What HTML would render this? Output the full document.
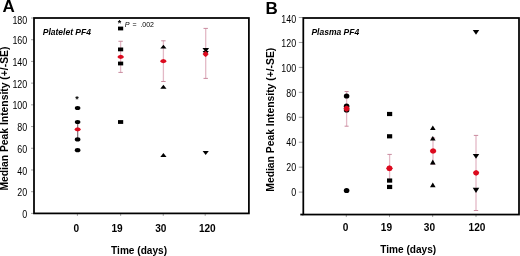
<!DOCTYPE html>
<html><head><meta charset="utf-8"><style>
html,body{margin:0;padding:0;background:#fff;}
body{width:520px;height:256px;overflow:hidden;}
svg{display:block;font-family:"Liberation Sans", sans-serif;will-change:transform;}
</style></head><body>
<svg width="520" height="256" viewBox="0 0 520 256" font-family='"Liberation Sans", sans-serif' fill="#000">
<text x="2.6" y="12.2" font-size="17" font-weight="bold">A</text>
<line x1="31" y1="213.4" x2="34" y2="213.4" stroke="#8a8a8a" stroke-width="0.8"/>
<text transform="translate(27.2,217.97) scale(0.87,1)" font-size="10.2" text-anchor="end">0</text>
<line x1="31" y1="191.69" x2="34" y2="191.69" stroke="#8a8a8a" stroke-width="0.8"/>
<text transform="translate(27.2,196.26) scale(0.87,1)" font-size="10.2" text-anchor="end">20</text>
<line x1="31" y1="169.98" x2="34" y2="169.98" stroke="#8a8a8a" stroke-width="0.8"/>
<text transform="translate(27.2,174.55) scale(0.87,1)" font-size="10.2" text-anchor="end">40</text>
<line x1="31" y1="148.27" x2="34" y2="148.27" stroke="#8a8a8a" stroke-width="0.8"/>
<text transform="translate(27.2,152.84) scale(0.87,1)" font-size="10.2" text-anchor="end">60</text>
<line x1="31" y1="126.56" x2="34" y2="126.56" stroke="#8a8a8a" stroke-width="0.8"/>
<text transform="translate(27.2,131.13) scale(0.87,1)" font-size="10.2" text-anchor="end">80</text>
<line x1="31" y1="104.84" x2="34" y2="104.84" stroke="#8a8a8a" stroke-width="0.8"/>
<text transform="translate(27.2,109.41) scale(0.87,1)" font-size="10.2" text-anchor="end">100</text>
<line x1="31" y1="83.13" x2="34" y2="83.13" stroke="#8a8a8a" stroke-width="0.8"/>
<text transform="translate(27.2,87.70) scale(0.87,1)" font-size="10.2" text-anchor="end">120</text>
<line x1="31" y1="61.42" x2="34" y2="61.42" stroke="#8a8a8a" stroke-width="0.8"/>
<text transform="translate(27.2,65.99) scale(0.87,1)" font-size="10.2" text-anchor="end">140</text>
<line x1="31" y1="39.71" x2="34" y2="39.71" stroke="#8a8a8a" stroke-width="0.8"/>
<text transform="translate(27.2,44.28) scale(0.87,1)" font-size="10.2" text-anchor="end">160</text>
<line x1="31" y1="18.0" x2="34" y2="18.0" stroke="#8a8a8a" stroke-width="0.8"/>
<text transform="translate(27.2,24.17) scale(0.87,1)" font-size="10.2" text-anchor="end">180</text>
<line x1="77.4" y1="213.4" x2="77.4" y2="215.9" stroke="#8a8a8a" stroke-width="0.8"/>
<line x1="120.65" y1="213.4" x2="120.65" y2="215.9" stroke="#8a8a8a" stroke-width="0.8"/>
<line x1="163.25" y1="213.4" x2="163.25" y2="215.9" stroke="#8a8a8a" stroke-width="0.8"/>
<line x1="205.2" y1="213.4" x2="205.2" y2="215.9" stroke="#8a8a8a" stroke-width="0.8"/>
<text x="76.25" y="231.6" font-size="10.1" font-weight="bold" text-anchor="middle">0</text>
<text x="117.1" y="231.6" font-size="10.1" font-weight="bold" text-anchor="middle">19</text>
<text x="160.75" y="231.6" font-size="10.1" font-weight="bold" text-anchor="middle">30</text>
<text x="207.3" y="231.6" font-size="10.1" font-weight="bold" text-anchor="middle">120</text>
<text x="111.1" y="253.6" font-size="10.1" font-weight="bold">Time (days)</text>
<text x="42.75" y="35.2" font-size="8.5" font-weight="bold" font-style="italic">Platelet PF4</text>
<text transform="translate(7.7,190.6) rotate(-90)" font-size="10.35" font-weight="bold">Median Peak Intensity (+/-SE)</text>
<text x="77.1" y="102.3" font-size="9" font-weight="bold" text-anchor="middle">*</text>
<text x="119.5" y="26.3" font-size="9" font-weight="bold" text-anchor="middle">*</text>
<text x="124.8" y="26.7" font-size="7.2" font-style="italic">P</text>
<text x="132.4" y="26.7" font-size="7">=</text>
<text x="140.4" y="26.7" font-size="7">.002</text>
<line x1="77.65" y1="122" x2="77.65" y2="139.4" stroke="#8a7a80" stroke-width="1.3"/>
<line x1="75.45" y1="122" x2="79.85" y2="122" stroke="#c98a9e" stroke-width="1"/>
<line x1="75.45" y1="139.4" x2="79.85" y2="139.4" stroke="#c98a9e" stroke-width="1"/>
<ellipse cx="77.6" cy="108" rx="2.8" ry="2.1" fill="#000"/>
<ellipse cx="77.6" cy="122" rx="2.8" ry="2.1" fill="#000"/>
<ellipse cx="77.6" cy="139.4" rx="2.8" ry="2.1" fill="#000"/>
<ellipse cx="77.6" cy="150.2" rx="2.8" ry="2.1" fill="#000"/>
<polygon points="80.95,129.45 79.83,128.06 77.65,127.35 75.47,128.06 74.35,129.45 75.47,130.84 77.65,131.55 79.83,130.84" fill="#dc0a1e"/>
<line x1="120.6" y1="41.25" x2="120.6" y2="72.4" stroke="#e3b9c6" stroke-width="1.3"/>
<line x1="118.40" y1="41.25" x2="122.80" y2="41.25" stroke="#c98a9e" stroke-width="1"/>
<line x1="118.40" y1="72.4" x2="122.80" y2="72.4" stroke="#c98a9e" stroke-width="1"/>
<rect x="118.00" y="26.60" width="5.2" height="3.8" fill="#000"/>
<rect x="118.00" y="47.50" width="5.2" height="3.8" fill="#000"/>
<rect x="118.00" y="61.60" width="5.2" height="3.8" fill="#000"/>
<rect x="118.00" y="120.10" width="5.2" height="3.8" fill="#000"/>
<polygon points="124.00,56.90 122.88,55.51 120.70,54.80 118.52,55.51 117.40,56.90 118.52,58.29 120.70,59.00 122.88,58.29" fill="#dc0a1e"/>
<line x1="163.4" y1="40.8" x2="163.4" y2="81.5" stroke="#e3b9c6" stroke-width="1.3"/>
<line x1="161.20" y1="40.8" x2="165.60" y2="40.8" stroke="#c98a9e" stroke-width="1"/>
<line x1="161.20" y1="81.5" x2="165.60" y2="81.5" stroke="#c98a9e" stroke-width="1"/>
<polygon points="163.4,44.65 160.30,48.5 166.50,48.5" fill="#000"/>
<polygon points="163.4,84.65 160.30,88.75 166.50,88.75" fill="#000"/>
<polygon points="163.4,153.1 160.30,157 166.50,157" fill="#000"/>
<polygon points="166.65,61.20 165.53,59.81 163.35,59.10 161.17,59.81 160.05,61.20 161.17,62.59 163.35,63.30 165.53,62.59" fill="#dc0a1e"/>
<line x1="205.7" y1="28.4" x2="205.7" y2="78.4" stroke="#e3b9c6" stroke-width="1.3"/>
<line x1="203.50" y1="28.4" x2="207.90" y2="28.4" stroke="#c98a9e" stroke-width="1"/>
<line x1="203.50" y1="78.4" x2="207.90" y2="78.4" stroke="#c98a9e" stroke-width="1"/>
<polygon points="205.8,52.6 202.50,47.9 209.10,47.9" fill="#000"/>
<polygon points="205.7,55.6 202.60,50.9 208.80,50.9" fill="#000"/>
<polygon points="205.7,155.0 202.60,151.1 208.80,151.1" fill="#000"/>
<polygon points="208.60,54.10 207.25,52.45 205.60,51.10 203.95,52.45 202.60,54.10 203.95,55.75 205.60,57.10 207.25,55.75" fill="#dc0a1e"/>
<rect x="34" y="18" width="214.9" height="195.4" fill="none" stroke="#000" stroke-width="1.75"/>
<text x="265.5" y="14.2" font-size="17" font-weight="bold">B</text>
<line x1="298.8" y1="192.1" x2="303.3" y2="192.1" stroke="#8a8a8a" stroke-width="0.8"/>
<text transform="translate(296.1,196.27) scale(0.87,1)" font-size="10.2" text-anchor="end">0</text>
<line x1="298.8" y1="167.16" x2="303.3" y2="167.16" stroke="#8a8a8a" stroke-width="0.8"/>
<text transform="translate(296.1,171.33) scale(0.87,1)" font-size="10.2" text-anchor="end">20</text>
<line x1="298.8" y1="142.22" x2="303.3" y2="142.22" stroke="#8a8a8a" stroke-width="0.8"/>
<text transform="translate(296.1,146.39) scale(0.87,1)" font-size="10.2" text-anchor="end">40</text>
<line x1="298.8" y1="117.28" x2="303.3" y2="117.28" stroke="#8a8a8a" stroke-width="0.8"/>
<text transform="translate(296.1,121.45) scale(0.87,1)" font-size="10.2" text-anchor="end">60</text>
<line x1="298.8" y1="92.34" x2="303.3" y2="92.34" stroke="#8a8a8a" stroke-width="0.8"/>
<text transform="translate(296.1,96.51) scale(0.87,1)" font-size="10.2" text-anchor="end">80</text>
<line x1="298.8" y1="67.4" x2="303.3" y2="67.4" stroke="#8a8a8a" stroke-width="0.8"/>
<text transform="translate(296.1,71.57) scale(0.87,1)" font-size="10.2" text-anchor="end">100</text>
<line x1="298.8" y1="42.46" x2="303.3" y2="42.46" stroke="#8a8a8a" stroke-width="0.8"/>
<text transform="translate(296.1,46.63) scale(0.87,1)" font-size="10.2" text-anchor="end">120</text>
<line x1="298.8" y1="17.52" x2="303.3" y2="17.52" stroke="#8a8a8a" stroke-width="0.8"/>
<text transform="translate(296.1,22.79) scale(0.87,1)" font-size="10.2" text-anchor="end">140</text>
<line x1="300.3" y1="214.55" x2="303.3" y2="214.55" stroke="#000" stroke-width="1.75"/>
<line x1="346.3" y1="214.55" x2="346.3" y2="217.05" stroke="#8a8a8a" stroke-width="0.8"/>
<line x1="389.5" y1="214.55" x2="389.5" y2="217.05" stroke="#8a8a8a" stroke-width="0.8"/>
<line x1="432.65" y1="214.55" x2="432.65" y2="217.05" stroke="#8a8a8a" stroke-width="0.8"/>
<line x1="476" y1="214.55" x2="476" y2="217.05" stroke="#8a8a8a" stroke-width="0.8"/>
<text x="345.45" y="230.9" font-size="10.1" font-weight="bold" text-anchor="middle">0</text>
<text x="386.4" y="230.9" font-size="10.1" font-weight="bold" text-anchor="middle">19</text>
<text x="429.45" y="230.9" font-size="10.1" font-weight="bold" text-anchor="middle">30</text>
<text x="477" y="230.9" font-size="10.1" font-weight="bold" text-anchor="middle">120</text>
<text x="380.3" y="253.2" font-size="10.1" font-weight="bold">Time (days)</text>
<text x="311.4" y="34.8" font-size="8.5" font-weight="bold" font-style="italic">Plasma PF4</text>
<text transform="translate(274.4,191.7) rotate(-90)" font-size="10.35" font-weight="bold">Median Peak Intensity (+/-SE)</text>
<line x1="346.6" y1="91.5" x2="346.6" y2="126.2" stroke="#e3b9c6" stroke-width="1.3"/>
<line x1="344.60" y1="91.5" x2="348.60" y2="91.5" stroke="#c98a9e" stroke-width="1"/>
<line x1="344.60" y1="126.2" x2="348.60" y2="126.2" stroke="#c98a9e" stroke-width="1"/>
<ellipse cx="346.6" cy="96" rx="2.8" ry="2.6" fill="#000"/>
<ellipse cx="346.6" cy="106.2" rx="2.8" ry="2.6" fill="#000"/>
<ellipse cx="346.6" cy="110" rx="2.8" ry="2.6" fill="#000"/>
<ellipse cx="346.6" cy="190.5" rx="2.8" ry="2.6" fill="#000"/>
<polygon points="349.60,108.60 348.58,106.49 346.60,105.40 344.62,106.49 343.60,108.60 344.62,110.71 346.60,111.80 348.58,110.71" fill="#dc0a1e"/>
<line x1="389.6" y1="154.4" x2="389.6" y2="181" stroke="#e3b9c6" stroke-width="1.3"/>
<line x1="387.40" y1="154.4" x2="391.80" y2="154.4" stroke="#c98a9e" stroke-width="1"/>
<line x1="387.40" y1="181" x2="391.80" y2="181" stroke="#c98a9e" stroke-width="1"/>
<rect x="387.00" y="111.90" width="5.2" height="4.2" fill="#000"/>
<rect x="387.00" y="134.20" width="5.2" height="4.2" fill="#000"/>
<rect x="387.00" y="178.45" width="5.2" height="4.2" fill="#000"/>
<rect x="387.00" y="184.85" width="5.2" height="4.2" fill="#000"/>
<polygon points="392.65,168.30 391.69,166.20 389.45,165.30 387.21,166.20 386.25,168.30 387.21,170.40 389.45,171.30 391.69,170.40" fill="#dc0a1e"/>
<line x1="433" y1="138" x2="433" y2="164.2" stroke="#e3b9c6" stroke-width="1.3"/>
<line x1="430.80" y1="138" x2="435.20" y2="138" stroke="#c98a9e" stroke-width="1"/>
<line x1="430.80" y1="164.2" x2="435.20" y2="164.2" stroke="#c98a9e" stroke-width="1"/>
<polygon points="432.8,125.60000000000001 430.00,130.0 435.60,130.0" fill="#000"/>
<polygon points="432.8,136.1 430.00,140.4 435.60,140.4" fill="#000"/>
<polygon points="432.8,159.39999999999998 430.00,164.4 435.60,164.4" fill="#000"/>
<polygon points="432.8,182.45 430.00,187.3 435.60,187.3" fill="#000"/>
<polygon points="436.35,151.00 435.31,149.10 433.10,148.20 430.89,149.10 429.85,151.00 430.89,152.90 433.10,153.80 435.31,152.90" fill="#dc0a1e"/>
<line x1="476" y1="135.4" x2="476" y2="210.5" stroke="#e3b9c6" stroke-width="1.3"/>
<line x1="473.80" y1="135.4" x2="478.20" y2="135.4" stroke="#c98a9e" stroke-width="1"/>
<line x1="473.80" y1="210.5" x2="478.20" y2="210.5" stroke="#c98a9e" stroke-width="1"/>
<polygon points="476,34.65 472.75,30 479.25,30" fill="#000"/>
<polygon points="476,158.8 472.75,154.1 479.25,154.1" fill="#000"/>
<polygon points="476,193.1 472.75,187.8 479.25,187.8" fill="#000"/>
<polygon points="479.25,172.85 478.24,170.88 476.10,169.95 473.96,170.88 472.95,172.85 473.96,174.82 476.10,175.75 478.24,174.82" fill="#dc0a1e"/>
<rect x="303.3" y="18" width="215.7" height="196.55" fill="none" stroke="#000" stroke-width="1.75"/>
</svg>
</body></html>
